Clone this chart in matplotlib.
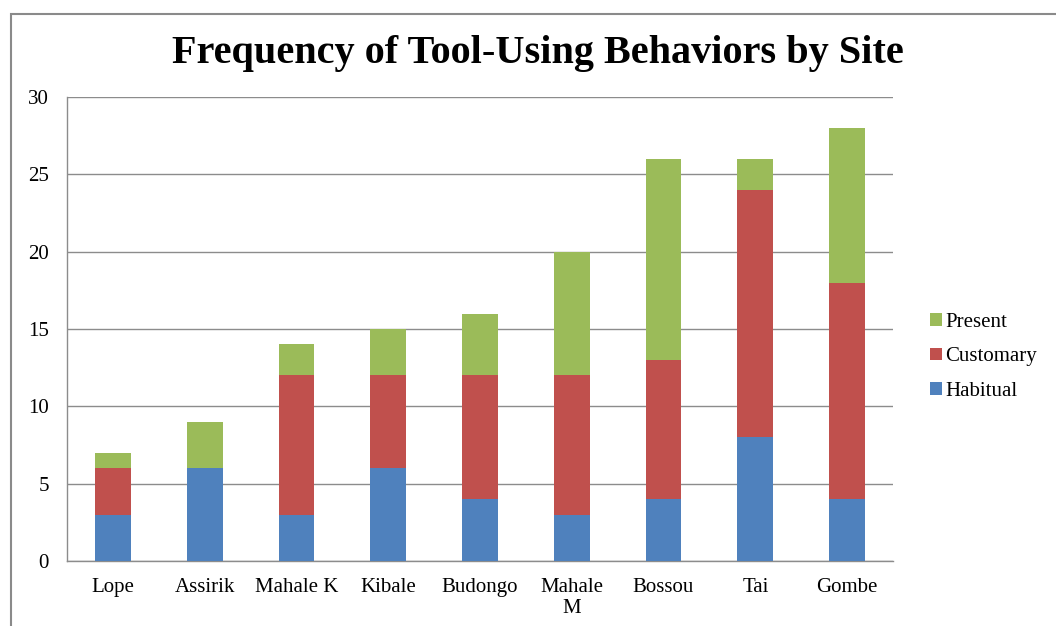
import matplotlib
matplotlib.use("Agg")
import matplotlib.pyplot as plt
from matplotlib.patches import Rectangle
import numpy as np

sites = ["Lope", "Assirik", "Mahale K", "Kibale", "Budongo", "Mahale\nM", "Bossou", "Tai", "Gombe"]
habitual = [3, 6, 3, 6, 4, 3, 4, 8, 4]
customary = [3, 0, 9, 6, 8, 9, 9, 16, 14]
present = [1, 3, 2, 3, 4, 8, 13, 2, 10]

plt.rcParams["font.family"] = ["Liberation Serif", "DejaVu Serif"]

fig = plt.figure(figsize=(10.56, 6.26), dpi=100)
ax = fig.add_axes([67 / 1056, 1 - 561 / 626, (893 - 67) / 1056, (561 - 97) / 626])

x = np.arange(len(sites))
w = 0.39
h = np.array(habitual)
c = np.array(customary)
p = np.array(present)

b1 = ax.bar(x, h, w, color="#4F81BD", label="Habitual", zorder=3)
b2 = ax.bar(x, c, w, bottom=h, color="#C0504D", label="Customary", zorder=3)
b3 = ax.bar(x, p, w, bottom=h + c, color="#9BBB59", label="Present", zorder=3)

ax.set_xlim(-0.5, len(sites) - 0.5)
ax.set_ylim(0, 30)
ax.set_yticks(range(0, 31, 5))
ax.yaxis.grid(True, color="#8c8c8c", linewidth=1.0, zorder=0)
ax.set_axisbelow(True)
for s in ["top", "right"]:
    ax.spines[s].set_visible(False)
for s in ["left", "bottom"]:
    ax.spines[s].set_color("#8c8c8c")
    ax.spines[s].set_linewidth(1.0)
ax.tick_params(axis="both", length=0, labelsize=15)
ax.tick_params(axis="y", pad=13)
ax.tick_params(axis="x", pad=12)
ax.set_xticks(x)
ax.set_xticklabels(sites, linespacing=1.2)

fig.text(538 / 1056, 1 - 53 / 626, "Frequency of Tool-Using Behaviors by Site",
         ha="center", va="center", fontsize=29, fontweight="bold")

leg = fig.legend(handles=[b3, b2, b1], labels=["Present", "Customary", "Habitual"],
                 loc="center left", bbox_to_anchor=(922 / 1056, 1 - 357 / 626),
                 frameon=False, fontsize=15, handlelength=0.55, handleheight=0.55,
                 handletextpad=0.15, labelspacing=0.75, borderaxespad=0)

fig.patches.append(Rectangle((11 / 1056, -0.1), 1.2, 1 - 14 / 626 + 0.1,
                             transform=fig.transFigure, fill=False,
                             edgecolor="#8a8a8a", linewidth=1.5))

fig.savefig("out.png", dpi=100)
